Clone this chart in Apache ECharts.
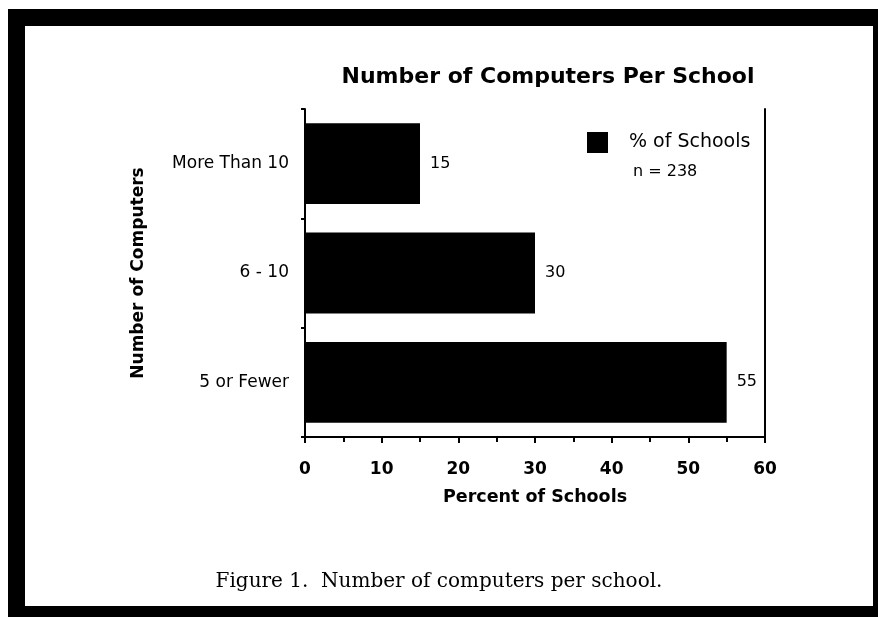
<!DOCTYPE html>
<html>
<head>
<meta charset="utf-8">
<script src="https://cdn.jsdelivr.net/npm/echarts@6/dist/echarts.min.js"></script>
<style>
  html, body { margin: 0; padding: 0; background: #fff; }
  #chart { width: 878px; height: 617px; }
</style>
</head>
<body>
<div id="chart"></div>
<script>
// number of computers per school
let categories = ['5 or Fewer', '6 - 10', 'More Than 10'];
let percentOfSchools = [55, 30, 15];
let seriesName = '% of Schools';
let sampleNote = 'n = 238';
let caption = 'Figure 1.  Number of computers per school.';

let chart = echarts.init(document.getElementById('chart'));
let sans = 'DejaVu Sans, Liberation Sans, Arial, sans-serif';

chart.setOption({
  animation: false,
  backgroundColor: '#fff',
  title: {
    text: 'Number of Computers Per School',
    left: 543, top: 61, textAlign: 'center',
    textStyle: { fontFamily: sans, fontWeight: 'bold', fontSize: 22, color: '#000' }
  },
  legend: {
    data: [seriesName],
    left: 587, top: 132, padding: 0,
    itemWidth: 21, itemHeight: 21,
    icon: 'rect',
    textStyle: { fontFamily: sans, fontSize: 19, color: '#000', padding: [0, 0, 0, 16] }
  },
  grid: { left: 305, right: 113, top: 109, bottom: 180 },
  xAxis: {
    type: 'value', min: 0, max: 60, interval: 10,
    name: 'Percent of Schools', nameLocation: 'middle', nameGap: 51,
    nameTextStyle: { fontFamily: sans, fontWeight: 'bold', fontSize: 17.5, color: '#000' },
    axisLine: { show: true, lineStyle: { color: '#000', width: 2 } },
    axisTick: { show: true, length: 6, lineStyle: { color: '#000', width: 2 } },
    minorTick: { show: true, splitNumber: 2, length: 5, lineStyle: { color: '#000', width: 2 } },
    splitLine: { show: false },
    axisLabel: { fontFamily: sans, fontWeight: 'bold', fontSize: 17, color: '#000', margin: 24 }
  },
  yAxis: [{
    type: 'category', data: categories,
    name: 'Number of Computers', nameLocation: 'middle', nameGap: 158, nameRotate: 90,
    nameTextStyle: { fontFamily: sans, fontWeight: 'bold', fontSize: 17, color: '#000' },
    axisLine: { show: true, lineStyle: { color: '#000', width: 2 } },
    axisTick: { show: true, length: 4, lineStyle: { color: '#000', width: 2 } },
    axisLabel: { fontFamily: sans, fontSize: 17, color: '#000', margin: 16 }
  }, {
    type: 'category', data: categories, position: 'right',
    axisLine: { show: true, lineStyle: { color: '#000', width: 2 } },
    axisTick: { show: false }, axisLabel: { show: false }
  }],
  graphic: [
    { type: 'rect', z: -10, silent: true, shape: { x: 8, y: 9, width: 870, height: 608 }, style: { fill: '#000' } },
    { type: 'rect', z: -9, silent: true, shape: { x: 25, y: 26, width: 848, height: 580 }, style: { fill: '#fff' } },
    { type: 'text', left: 633, top: 164, style: { text: sampleNote, fontFamily: sans, fontSize: 16, fill: '#000' } },
    { type: 'text', left: 'center', top: 572, style: { text: caption, fontFamily: 'DejaVu Serif, Liberation Serif, serif', fontSize: 20, fill: '#000' } }
  ],
  series: [{
    type: 'bar', name: seriesName, data: percentOfSchools,
    barCategoryGap: '26%',
    itemStyle: { color: '#000' },
    label: { show: true, position: 'right', distance: 10, fontFamily: sans, fontSize: 16, color: '#000' }
  }]
});
</script>
</body>
</html>
